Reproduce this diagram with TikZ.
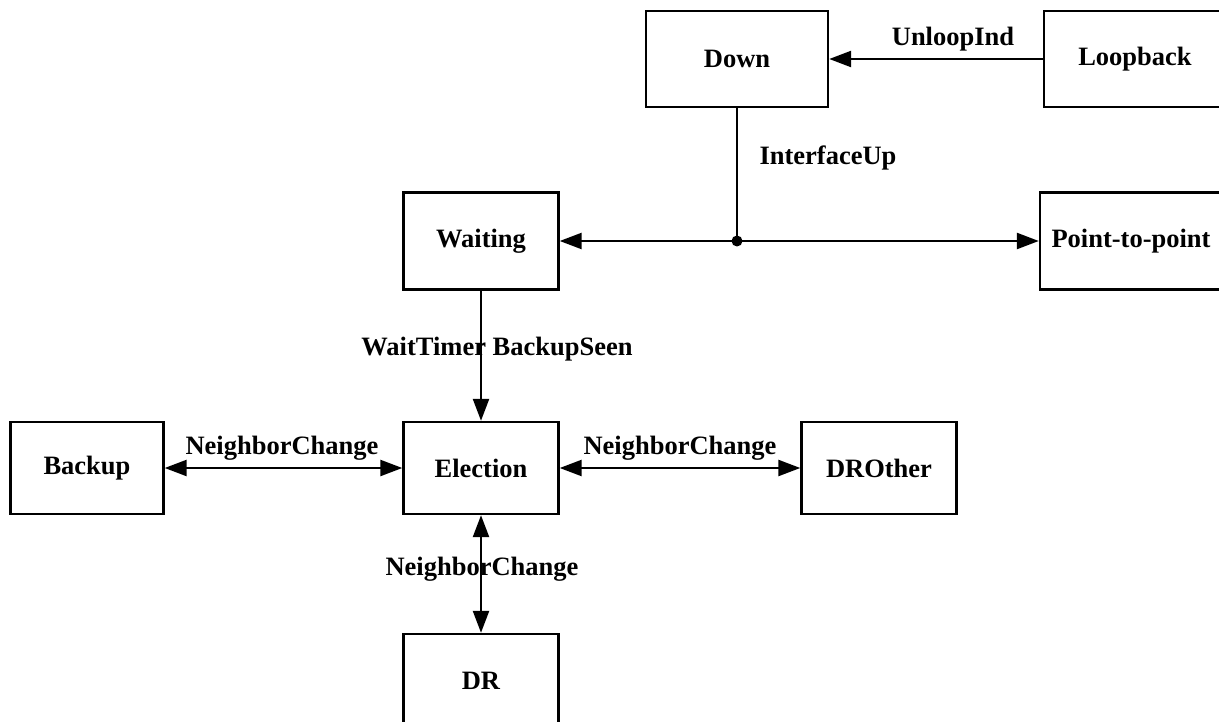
\documentclass[tikz,border=0pt]{standalone}
\usepackage{fontspec}
\setmainfont{Liberation Serif}
\usetikzlibrary{arrows.meta}
\begin{document}
\begin{tikzpicture}[x=1pt,y=-1pt,
  txt/.style={font=\bfseries\fontsize{26.5}{30}\selectfont},
  box/.style={txt,draw,line width=2.4pt,inner sep=0pt},
  lbl/.style={txt,inner sep=0pt},
  tip/.style={},
  conn/.style={line width=2.4pt,-{Triangle[length=22pt,width=16pt]}},
  bconn/.style={line width=2.4pt,{Triangle[length=22pt,width=16pt]}-{Triangle[length=22pt,width=16pt]}}]
\useasboundingbox (0,0) rectangle (1219,722);
\clip (0,0) rectangle (1219,722);
\node[box,minimum width=182pt,minimum height=96pt] (down) at (737,59) {Down};
\node[box,minimum width=182pt,minimum height=96pt] (loop) at (1135,59) {Loopback};
\node[box,minimum width=155pt,minimum height=97pt] (wait) at (481,241) {Waiting};
\node[box,minimum width=182pt,minimum height=97pt] (p2p) at (1131,241) {Point-to-point};
\node[box,minimum width=153pt,minimum height=92pt] (backup) at (87,468) {Backup};
\node[box,minimum width=155pt,minimum height=92pt] (elect) at (481,468) {Election};
\node[box,minimum width=155pt,minimum height=92pt] (drother) at (879,468) {DROther};
\node[box,minimum width=155pt,minimum height=94pt] (dr) at (481,681) {DR};
\coordinate (j) at (down.south |- wait.east);
% connectors
\draw[conn] (loop.west) -- (down.east);
\draw[line width=2.4pt] (down.south) -- (j);
\draw[conn] (j) -- (wait.east);
\draw[conn] (j) -- (p2p.west);
\fill (j) circle (5.5pt);
\draw[conn] (wait.south) -- (elect.north);
\draw[bconn] (backup.east) -- (elect.west);
\draw[bconn] (elect.east) -- (drother.west);
\draw[bconn] (elect.south) -- (dr.north);
% labels
\node[lbl] (l1) at (953,39) {UnloopInd};
\node[lbl] (l2) at (828,158) {InterfaceUp};
\node[lbl] (l3) at (497,349) {WaitTimer BackupSeen};
\node[lbl] (l4) at (282,448) {NeighborChange};
\node[lbl] (l5) at (680,448) {NeighborChange};
\node[lbl] (l6) at (482,569) {NeighborChange};
\end{tikzpicture}
\end{document}
